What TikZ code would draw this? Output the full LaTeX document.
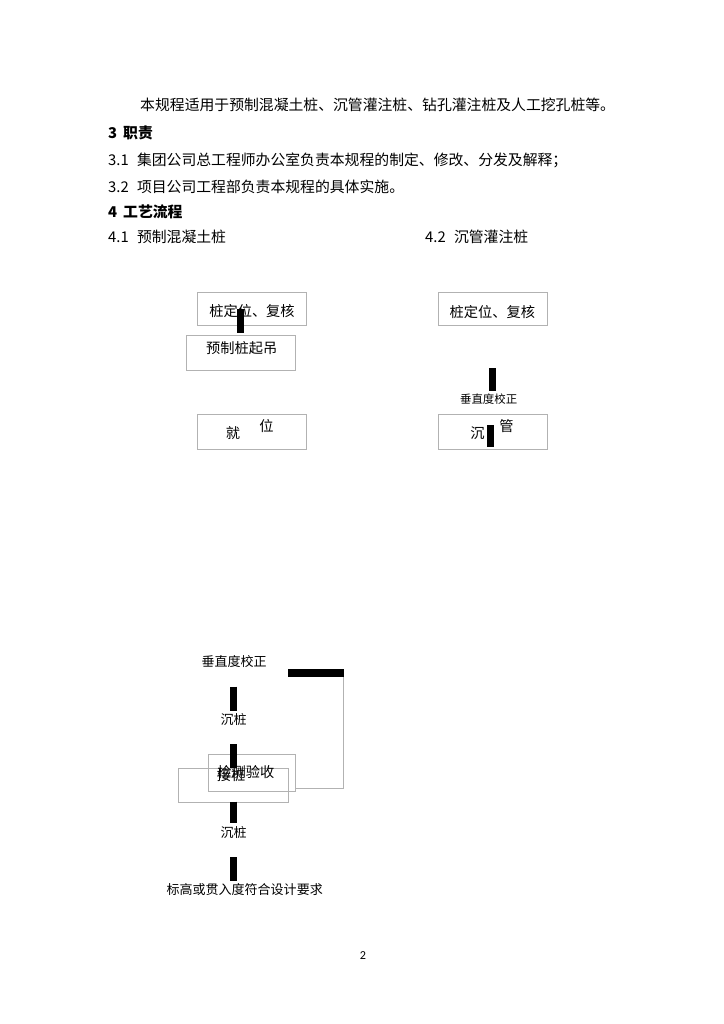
\documentclass[tikz,border=0pt]{standalone}
\usepackage{fontspec}
\setmainfont{Noto Sans CJK SC}
\newfontfamily\pagefont{Carlito}
\begin{document}
\begin{tikzpicture}[x=0.8222pt,y=-0.8222pt,
    para/.style={anchor=west,inner sep=0pt,font=\fontsize{12.2pt}{14pt}\selectfont},
    head/.style={para,font=\fontsize{12.2pt}{14pt}\selectfont\bfseries},
    boxnode/.style={draw=black!30,line width=0.8pt,inner sep=0pt,outer sep=0pt,
        minimum width=90pt,minimum height=28.2pt},
    boxtext/.style={inner sep=0pt,font=\fontsize{11.7pt}{13pt}\selectfont},
    flowtext/.style={inner sep=0pt,font=\fontsize{10.7pt}{12pt}\selectfont},
    bar/.style={line width=5.8pt},
    loopline/.style={draw=black!30,line width=0.8pt}]
    \useasboundingbox (0,0) rectangle (724,1024);
    % text above the charts
    \node[para] (intro) at (140,105) {本规程适用于预制混凝土桩、沉管灌注桩、钻孔灌注桩及人工挖孔桩等。};
    \node[head] (duty) at (108,133.3) {3\hspace{0.4em}职责};
    \node[para] (duty1) at (108,160) {3.1\hspace{0.55em}集团公司总工程师办公室负责本规程的制定、修改、分发及解释；};
    \node[para] (duty2) at (108,186.7) {3.2\hspace{0.55em}项目公司工程部负责本规程的具体实施。};
    \node[head] (flow) at (108,211.7) {4\hspace{0.4em}工艺流程};
    \node[para] (flowA) at (108,236.7) {4.1\hspace{0.55em}预制混凝土桩};
    \node[para] (flowB) at (425,236.7) {4.2\hspace{0.55em}沉管灌注桩};
    % 4.1 chart
    \node[boxnode,minimum height=27.1pt] (dingweiA) at (252,309.2) {};
    \node[boxtext] at (252,311.5) {桩定位、复核};
    \node[boxnode,minimum height=28.8pt] (qidiao) at (240.8,352.5) {};
    \node[boxtext] at (241.7,348) {预制桩起吊};
    \node[boxnode,minimum height=28.8pt] (jiuwei) at (252,431.8) {};
    \node[boxtext] at (233,433) {就};
    \node[boxtext] at (266.5,425.7) {位};
    \coordinate (barAtop) at (240.6,309);
    \coordinate (barAbot) at (240.6,332.7);
    \draw[bar] (barAtop) -- (barAbot);
    % 4.2 chart
    \node[boxnode,minimum height=27.4pt] (dingweiB) at (492.8,309.3) {};
    \node[boxtext] at (492.3,311.7) {桩定位、复核};
    \node[boxnode,minimum height=28.8pt] (chenguan) at (492.8,431.8) {};
    \node[boxtext] at (477.5,433) {沉};
    \node[boxtext] at (506.5,425.7) {管};
    \node[inner sep=0pt,font=\fontsize{9.4pt}{11pt}\selectfont] (jiaozhengB) at (488.7,399.3) {垂直度校正};
    \coordinate (barBtop) at (492.5,368.3);
    \coordinate (barBbot) at (492.5,391);
    \draw[bar] (barBtop) -- (barBbot);
    \coordinate (barCtop) at (490.8,425);
    \coordinate (barCbot) at (490.8,447.3);
    \draw[bar] (barCtop) -- (barCbot);
    % lower chart
    \node[flowtext] (jiaozhengC) at (234.2,661.7) {垂直度校正};
    \node[flowtext] (chenzhuangA) at (233.7,719.3) {沉桩};
    \node[boxnode,minimum width=71.5pt,minimum height=30.7pt] (jiance) at (251.8,773) {};
    \node[boxnode,minimum width=90.2pt,minimum height=28pt] (jiezhuang) at (233.8,785.3) {};
    \node[boxtext] at (245.8,772.5) {检测验收};
    \node[boxtext,anchor=west] at (216.7,775) {接桩};
    \node[flowtext] (chenzhuangB) at (233.7,832.3) {沉桩};
    \node[flowtext] (biaogao) at (244.7,889.3) {标高或贯入度符合设计要求};
    \foreach \name/\top/\bot in {D/686.7/710.7,E/744.3/768,F/801.7/823.3,G/857.3/880.7}{
        \coordinate (bar\name top) at (233.7,\top);
        \coordinate (bar\name bot) at (233.7,\bot);
        \draw[bar] (bar\name top) -- (bar\name bot);
    }
    % loop back
    \coordinate (loopleft) at (288.3,673.3);
    \coordinate (loopright) at (343.7,673.3);
    \coordinate (loopend) at (295.3,788.3);
    \draw[line width=6.6pt] (loopleft) -- (loopright);
    \draw[loopline] ([yshift=-3.3pt]loopright) |- (loopend);
    % page number
    \node[inner sep=0pt,font=\pagefont\fontsize{10pt}{12pt}\selectfont] (pagenum) at (363,955.5) {2};
\end{tikzpicture}
\end{document}
